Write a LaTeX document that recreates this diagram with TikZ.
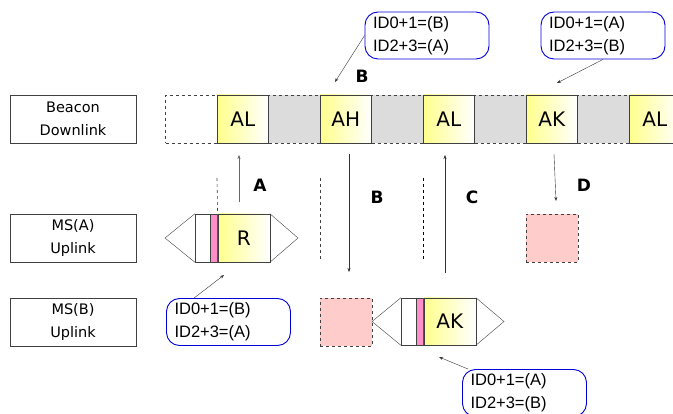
\documentclass[tikz,border=0pt]{standalone}
\usepackage{fontspec}
\setmainfont{Liberation Sans}
\newfontfamily\comic{DejaVu Sans}
\usepackage{tikz}
\usetikzlibrary{arrows.meta,positioning,calc}
\definecolor{slotgray}{HTML}{DCDCDC}
\definecolor{slotpink}{HTML}{FFCCCC}
\definecolor{stripe}{HTML}{FF8FC8}
\definecolor{frame}{HTML}{404040}
\tikzset{
  lbl/.style={draw=frame, minimum width=126pt, minimum height=48pt, align=center, inner sep=0pt, font=\comic\fontsize{14.5}{23}\selectfont},
  slotbox/.style={minimum width=51.5pt, minimum height=48pt, inner sep=0pt, font=\comic\fontsize{20}{22}\selectfont},
  emptyslot/.style={slotbox, draw=frame, dashed},
  grayslot/.style={slotbox, draw=frame, dashed, fill=slotgray},
  msgslot/.style={slotbox, draw=frame, left color=yellow!45, right color=white},
  idle/.style={draw=frame, dashed, thick, fill=slotpink, minimum width=52pt, minimum height=48pt, inner sep=0pt},
  callout/.style={draw=blue!85!black, line width=0.9pt, rounded corners=13pt, text width=108pt, inner xsep=8pt, minimum height=47pt, align=left, font=\fontsize{16.5}{23}\selectfont},
  tag/.style={font=\comic\bfseries\fontsize{17}{20}\selectfont},
  tip/.style={-{Stealth[length=4pt,width=3pt]}, black!80}
}
\begin{document}
\begin{tikzpicture}[x=1pt, y=-1pt]
\useasboundingbox (0,0) rectangle (673,414);
\clip (0,0) rectangle (673,414);

% row labels
\node[lbl] (bcn) at (73,119) {Beacon\\Downlink};
\node[lbl] (msa) at (73,238) {MS(A)\\Uplink};
\node[lbl] (msb) at (73,322) {MS(B)\\Uplink};

% beacon slots
\node[emptyslot] (s0) at (191.25,119) {};
\node[msgslot] (s1) at (242.75,119) {AL};
\node[grayslot] (s2) at (294.25,119) {};
\node[msgslot] (s3) at (345.75,119) {AH};
\node[grayslot] (s4) at (397.25,119) {};
\node[msgslot] (s5) at (448.75,119) {AL};
\node[grayslot] (s6) at (500.25,119) {};
\node[msgslot] (s7) at (551.75,119) {AK};
\node[grayslot] (s8) at (603.25,119) {};
\node[msgslot] (s9) at (654.75,119) {AL};

% MS(A) packet
\node[draw=frame, minimum width=15pt, minimum height=48pt, inner sep=0pt] (paw) at (202.5,238) {};
\node[draw=frame, fill=stripe, minimum width=7pt, minimum height=48pt, inner sep=0pt, right=0pt of paw] (pap) {};
\node[msgslot, minimum width=52pt, right=0pt of pap] (pay) {R};
\coordinate (pal) at (165,238);
\coordinate (par) at (298,238);
\draw[frame] (paw.north west) -- (pal) -- (paw.south west);
\draw[frame] (pay.north east) -- (par) -- (pay.south east);

% MS(B) packet
\node[draw=frame, minimum width=15pt, minimum height=47pt, inner sep=0pt] (pbw) at (408.5,321.5) {};
\node[draw=frame, fill=stripe, minimum width=7pt, minimum height=47pt, inner sep=0pt, right=0pt of pbw] (pbp) {};
\node[msgslot, minimum width=52pt, minimum height=47pt, right=0pt of pbp] (pby) {AK};
\coordinate (pbl) at (372,321.5);
\coordinate (pbr) at (504,321.5);
\draw[frame] (pbw.north west) -- (pbl) -- (pbw.south west);
\draw[frame] (pby.north east) -- (pbr) -- (pby.south east);

% idle slots
\node[idle] (ib) at (346,322) {};
\node[idle] (id) at (552,238) {};

% slot boundaries
\coordinate (da1) at (217,178);
\coordinate (da2) at (320,178);
\coordinate (da3) at (423,178);
\draw[frame, dashed, semithick] (da1) -- (pap.north east);
\draw[frame, dashed] (da2) -- (320,259);
\draw[black, dashed] (da3) -- (423,259);

% transmissions
\coordinate (ta0) at (239,202);
\coordinate (ta1) at (239,155);
\coordinate (tb0) at (349,154);
\coordinate (tb1) at (349,272);
\coordinate (tc0) at (445,273);
\coordinate (tc1) at (445,155);
\coordinate (td0) at (554,154);
\coordinate (td1) at (556,201);
\draw[tip, black!60] (ta0) -- (ta1);
\draw[tip] (tb0) -- (tb1);
\draw[tip] (tc0) -- (tc1);
\draw[tip] (td0) -- (td1);
\node[tag] (la) at (260,185) {A};
\node[tag] (lb) at (377,197) {B};
\node[tag] (lc) at (472,197) {C};
\node[tag] (ld) at (584,185) {D};
\node[tag] (lb2) at (362,76) {B};

% callouts
\node[callout] (c1) at (427,35.5) {ID0+1=(B)\\ID2+3=(A)};
\node[callout] (c2) at (603,35.5) {ID0+1=(A)\\ID2+3=(B)};
\node[callout] (c3) at (228.5,322) {ID0+1=(B)\\ID2+3=(A)};
\node[callout] (c4) at (524.5,393) {ID0+1=(A)\\ID2+3=(B)};
\coordinate (p1) at (335,82);
\coordinate (p2) at (557,83);
\coordinate (p3) at (224,275);
\coordinate (p4) at (439,357);
\draw[tip] (c1.west) -- (p1);
\draw[tip] (c2.south) -- (p2);
\draw[tip] (c3.north west) ++(28,0) -- (p3);
\draw[tip] (c4.north west) ++(6,0) -- (p4);
\end{tikzpicture}
\end{document}
